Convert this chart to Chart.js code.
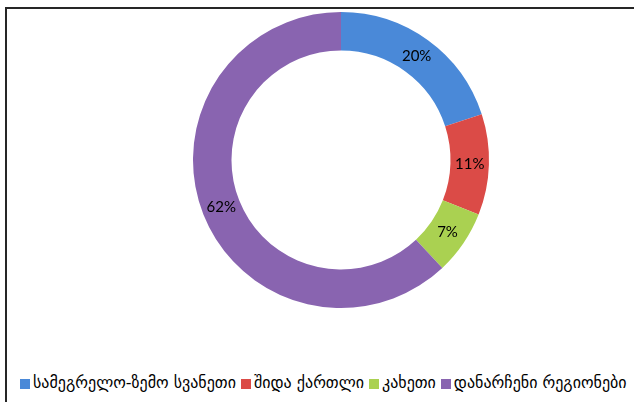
<!DOCTYPE html>
<html>
<head>
<meta charset="utf-8">
<script src="https://cdn.jsdelivr.net/npm/chart.js@4/dist/chart.umd.min.js"></script>
<style>
  html, body { margin: 0; padding: 0; background: #fff; width: 634px; height: 402px; overflow: hidden; }
  #frame { position: absolute; left: 5px; top: 7px; width: 629px; height: 395px; border-left: 2px solid #262626; border-top: 2px solid #262626; }
  #wrap { position: absolute; left: 0; top: 0; width: 627px; height: 302px; }
  #legend { position: absolute; left: 13px; top: 364px; white-space: nowrap; font-family: "DejaVu Sans", sans-serif; font-size: 16px; color: #000; }
  #legend span.item { display: inline-block; margin-right: 5px; }
  #legend span.box { display: inline-block; width: 10px; height: 10px; margin-right: 3px; vertical-align: -1px; }
</style>
</head>
<body>
<div id="frame">
  <div id="wrap"><canvas id="c"></canvas></div>
  <div id="legend"></div>
</div>
<script>
const categories = ["სამეგრელო-ზემო სვანეთი", "შიდა ქართლი", "კახეთი", "დანარჩენი რეგიონები"];
const values = [20, 11, 7, 62];
const colors = ["#4A89D8", "#DB4B47", "#AAD151", "#8964B0"];

const labelPlugin = {
  id: 'sliceLabels',
  afterDatasetsDraw(chart) {
    const ctx = chart.ctx;
    const meta = chart.getDatasetMeta(0);
    const total = values.reduce((a, b) => a + b, 0);
    ctx.save();
    ctx.font = '15px Lato, "Open Sans", sans-serif';
    ctx.fillStyle = '#000';
    ctx.textAlign = 'center';
    ctx.textBaseline = 'middle';
    meta.data.forEach((arc, i) => {
      const p = arc.tooltipPosition();
      ctx.fillText(Math.round(values[i] / total * 100) + '%', p.x, p.y);
    });
    ctx.restore();
  }
};

new Chart(document.getElementById('c'), {
  type: 'doughnut',
  data: {
    labels: categories,
    datasets: [{ data: values, backgroundColor: colors, borderWidth: 0, hoverOffset: 0 }]
  },
  options: {
    responsive: true,
    maintainAspectRatio: false,
    animation: false,
    cutout: '74%',
    layout: { padding: { left: 41, top: 3, bottom: 3, right: 0 } },
    plugins: { legend: { display: false }, tooltip: { enabled: false } }
  },
  plugins: [labelPlugin]
});

const lg = document.getElementById('legend');
categories.forEach((name, i) => {
  const item = document.createElement('span');
  item.className = 'item';
  const box = document.createElement('span');
  box.className = 'box';
  box.style.background = colors[i];
  item.appendChild(box);
  item.appendChild(document.createTextNode(name));
  lg.appendChild(item);
});
</script>
</body>
</html>
